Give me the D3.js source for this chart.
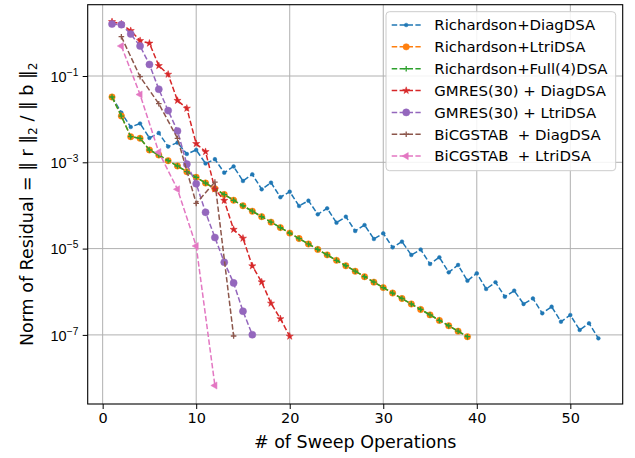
<!DOCTYPE html>
<html>
<head>
<meta charset="utf-8">
<script src="https://cdn.jsdelivr.net/npm/d3@7"></script>
<style>
  html, body { margin: 0; padding: 0; background: #fff; }
  svg { display: block; font-family: "DejaVu Sans", sans-serif; }
  text { white-space: pre; }
</style>
</head>
<body>
<svg id="chart" width="635" height="458"></svg>
<script>
// Residual history of each solver / DSA preconditioner combination
const seriesNames = [
  "Richardson+DiagDSA",
  "Richardson+LtriDSA",
  "Richardson+Full(4)DSA",
  "GMRES(30) + DiagDSA",
  "GMRES(30) + LtriDSA",
  "BiCGSTAB  + DiagDSA",
  "BiCGSTAB  + LtriDSA"
];

const richDiag = [3.31e-2, 1.41e-2, 6.58e-3, 7.93e-3, 3.66e-3, 4.78e-3, 2.32e-3, 2.85e-3, 1.56e-3, 1.93e-3,
  9.38e-4, 1.18e-3, 5.74e-4, 8.00e-4, 3.69e-4, 5.27e-4, 2.37e-4, 3.37e-4, 1.55e-4, 2.08e-4,
  9.71e-5, 1.29e-4, 6.24e-5, 8.59e-5, 3.98e-5, 5.48e-5, 2.56e-5, 3.52e-5, 1.67e-5, 2.26e-5,
  1.07e-5, 1.45e-5, 7.11e-6, 9.53e-6, 4.40e-6, 6.29e-6, 2.82e-6, 4.17e-6, 1.80e-6, 2.68e-6,
  1.16e-6, 1.66e-6, 7.68e-7, 1.06e-6, 5.20e-7, 6.98e-7, 3.17e-7, 4.50e-7, 2.02e-7, 2.89e-7,
  1.30e-7, 1.86e-7, 8.34e-8];

const richLtri = [3.26e-2, 1.18e-2, 3.92e-3, 3.60e-3, 1.93e-3, 1.48e-3, 1.09e-3, 8.21e-4, 6.05e-4, 4.49e-4,
  3.31e-4, 2.43e-4, 1.79e-4, 1.32e-4, 9.84e-5, 7.35e-5, 5.50e-5, 4.10e-5, 3.07e-5, 2.29e-5,
  1.71e-5, 1.28e-5, 9.57e-6, 7.16e-6, 5.35e-6, 4.00e-6, 2.99e-6, 2.23e-6, 1.67e-6, 1.25e-6,
  9.33e-7, 6.97e-7, 5.21e-7, 3.89e-7, 2.91e-7, 2.17e-7, 1.63e-7, 1.22e-7, 9.08e-8];

const richFull = [3.26e-2, 1.18e-2, 3.92e-3, 3.60e-3, 1.93e-3, 1.48e-3, 1.09e-3, 8.21e-4, 6.05e-4, 4.49e-4,
  3.31e-4, 2.43e-4, 1.79e-4, 1.32e-4, 9.84e-5, 7.35e-5, 5.50e-5, 4.10e-5, 3.07e-5, 2.29e-5,
  1.71e-5, 1.28e-5, 9.57e-6, 7.16e-6, 5.35e-6, 4.00e-6, 2.99e-6, 2.23e-6, 1.67e-6, 1.25e-6,
  9.33e-7, 6.97e-7, 5.21e-7, 3.89e-7, 2.91e-7, 2.17e-7, 1.63e-7, 1.22e-7, 9.08e-8];

const gmresDiag = [1.81, 1.60, 1.12, 0.658, 0.573, 0.173, 0.109, 2.70e-2, 1.78e-2, 2.70e-3,
  1.76e-3, 2.40e-4, 1.30e-4, 2.77e-5, 1.73e-5, 3.95e-6, 1.68e-6, 5.40e-7, 2.36e-7, 9.27e-8];

const gmresLtri = [1.60, 1.55, 0.940, 0.495, 0.185, 4.94e-2, 1.58e-2, 5.31e-3, 9.04e-4, 3.19e-4,
  6.93e-5, 1.81e-5, 4.84e-6, 1.60e-6, 3.54e-7, 1.01e-7];

// BiCGSTAB costs two sweeps per iteration
const bicgSweeps = [2, 4, 6, 8, 10, 12, 14];
const bicgDiag = [0.815, 9.64e-2, 2.28e-2, 3.60e-3, 1.12e-4, 3.49e-4, 9.42e-8];
const bicgLtriSweeps = [2, 4, 6, 8, 10, 12];
const bicgLtri = [0.495, 3.72e-2, 1.72e-3, 2.37e-4, 1.15e-5, 6.72e-9];

const xTicks = [0, 10, 20, 30, 40, 50];
const yTickExponents = [-1, -3, -5, -7];

const consecutive = vals => vals.map((v, i) => ({ x: i + 1, y: v }));
const paired = (xs, vals) => vals.map((v, i) => ({ x: xs[i], y: v }));

const series = [
  { name: seriesNames[0], color: "#1f77b4", marker: "point", data: consecutive(richDiag) },
  { name: seriesNames[1], color: "#ff7f0e", marker: "circle", data: consecutive(richLtri) },
  { name: seriesNames[2], color: "#2ca02c", marker: "plus", data: consecutive(richFull) },
  { name: seriesNames[3], color: "#d62728", marker: "star", data: consecutive(gmresDiag) },
  { name: seriesNames[4], color: "#9467bd", marker: "bigcircle", data: consecutive(gmresLtri) },
  { name: seriesNames[5], color: "#8c564b", marker: "plus", data: paired(bicgSweeps, bicgDiag) },
  { name: seriesNames[6], color: "#e377c2", marker: "tri", data: paired(bicgLtriSweeps, bicgLtri) }
];

const svg = d3.select("#chart");
const plot = { left: 87.7, right: 622.7, top: 4.7, bottom: 404 };

const x = d3.scaleLinear().domain([-1.6, 55.6]).range([plot.left, plot.right]);
const y = d3.scaleLog().domain([Math.pow(10, -8.6014), Math.pow(10, 0.6524)]).range([plot.bottom, plot.top]);

// grid
const grid = svg.append("g").attr("stroke", "#b0b0b0").attr("stroke-width", 1);
grid.selectAll("line.gx").data(xTicks).join("line")
  .attr("x1", d => x(d)).attr("x2", d => x(d))
  .attr("y1", plot.top).attr("y2", plot.bottom);
grid.selectAll("line.gy").data(yTickExponents).join("line")
  .attr("x1", plot.left).attr("x2", plot.right)
  .attr("y1", d => y(Math.pow(10, d))).attr("y2", d => y(Math.pow(10, d)));

// axes
const xAxis = d3.axisBottom(x).tickValues(xTicks).tickSize(5).tickPadding(4).tickFormat(d3.format("d"));
const gx = svg.append("g").attr("transform", `translate(0,${plot.bottom})`).call(xAxis);
gx.select(".domain").remove();
gx.selectAll("text").attr("font-size", 14.5).attr("font-family", "DejaVu Sans").attr("fill", "#000");
gx.selectAll("line").attr("stroke", "#000").attr("stroke-width", 1);

const yAxis = d3.axisLeft(y).tickValues(yTickExponents.map(e => Math.pow(10, e))).tickSize(5).tickFormat("");
const gy = svg.append("g").attr("transform", `translate(${plot.left},0)`).call(yAxis);
gy.select(".domain").remove();
gy.selectAll("line").attr("stroke", "#000").attr("stroke-width", 1);
gy.selectAll(".tick").each(function (d) {
  const e = Math.round(Math.log10(d));
  const t = d3.select(this).append("text")
    .attr("x", -9.4).attr("y", 5.3)
    .attr("text-anchor", "end")
    .attr("font-size", 14.5).attr("fill", "#000");
  t.append("tspan").text("10");
  t.append("tspan").attr("font-size", 10.2).attr("dy", -6).text("\u2212" + Math.abs(e));
});

// data lines and markers
const line = d3.line().x(d => x(d.x)).y(d => y(d.y));

function markerPath(kind) {
  switch (kind) {
    case "point": return d3.symbol(d3.symbolCircle, 11)();
    case "circle": return d3.symbol(d3.symbolCircle, 32)();
    case "bigcircle": return d3.symbol(d3.symbolCircle, 40)();
    case "star": return d3.symbol(d3.symbolStar, 16)();
    case "tri": return d3.symbol(d3.symbolTriangle, 22)();
    case "plus": return "M-2.8,0H2.8M0,-2.8V2.8";
  }
}

function drawMarker(sel, s) {
  sel.attr("d", markerPath(s.marker))
    .attr("fill", s.marker === "plus" ? "none" : s.color)
    .attr("stroke", s.color)
    .attr("stroke-width", s.marker === "plus" ? 1.3 : 0.5);
}

const dataLayer = svg.append("g");
series.forEach(s => {
  const g = dataLayer.append("g");
  g.append("path").datum(s.data)
    .attr("d", line)
    .attr("fill", "none")
    .attr("stroke", s.color)
    .attr("stroke-width", 1.5)
    .attr("stroke-dasharray", "5.5,2.4");
  g.selectAll("path.m").data(s.data).join("path")
    .attr("class", "m")
    .attr("transform", d => `translate(${x(d.x)},${y(d.y)})` + (s.marker === "tri" ? " rotate(-90)" : ""))
    .call(drawMarker, s);
});

// frame
svg.append("rect")
  .attr("x", plot.left).attr("y", plot.top)
  .attr("width", plot.right - plot.left).attr("height", plot.bottom - plot.top)
  .attr("fill", "none").attr("stroke", "#000").attr("stroke-width", 1.1);

// axis titles
svg.append("text")
  .attr("x", (plot.left + plot.right) / 2).attr("y", 448)
  .attr("text-anchor", "middle").attr("font-size", 17.5).attr("fill", "#000")
  .text("# of Sweep Operations");

const yl = svg.append("text")
  .attr("transform", `translate(33,${(plot.top + plot.bottom) / 2}) rotate(-90)`)
  .attr("text-anchor", "middle").attr("font-size", 17.5).attr("fill", "#000");
yl.append("tspan").text("Norm of Residual = \u2016 r \u2016");
yl.append("tspan").attr("font-size", 12.2).attr("dy", 3.5).text("2");
yl.append("tspan").attr("dy", -3.5).text(" / \u2016 b \u2016");
yl.append("tspan").attr("font-size", 12.2).attr("dy", 3.5).text("2");

// legend
const lg = svg.append("g");
lg.append("rect")
  .attr("x", 386).attr("y", 11.7).attr("width", 229.7).attr("height", 159)
  .attr("rx", 3.5)
  .attr("fill", "#fff").attr("fill-opacity", 0.85)
  .attr("stroke", "#cccccc").attr("stroke-width", 1);

series.forEach((s, i) => {
  const cy = 25 + i * 21.85;
  const row = lg.append("g");
  row.append("line")
    .attr("x1", 391.7).attr("x2", 420.7).attr("y1", cy).attr("y2", cy)
    .attr("stroke", s.color).attr("stroke-width", 1.5)
    .attr("stroke-dasharray", "5.5,2.4");
  row.append("path")
    .attr("transform", `translate(406.2,${cy})` + (s.marker === "tri" ? " rotate(-90)" : ""))
    .call(drawMarker, s);
  row.append("text")
    .attr("x", 434.3).attr("y", cy + 5.3)
    .attr("font-size", 14.9).attr("fill", "#000")
    .text(s.name);
});
</script>
</body>
</html>
